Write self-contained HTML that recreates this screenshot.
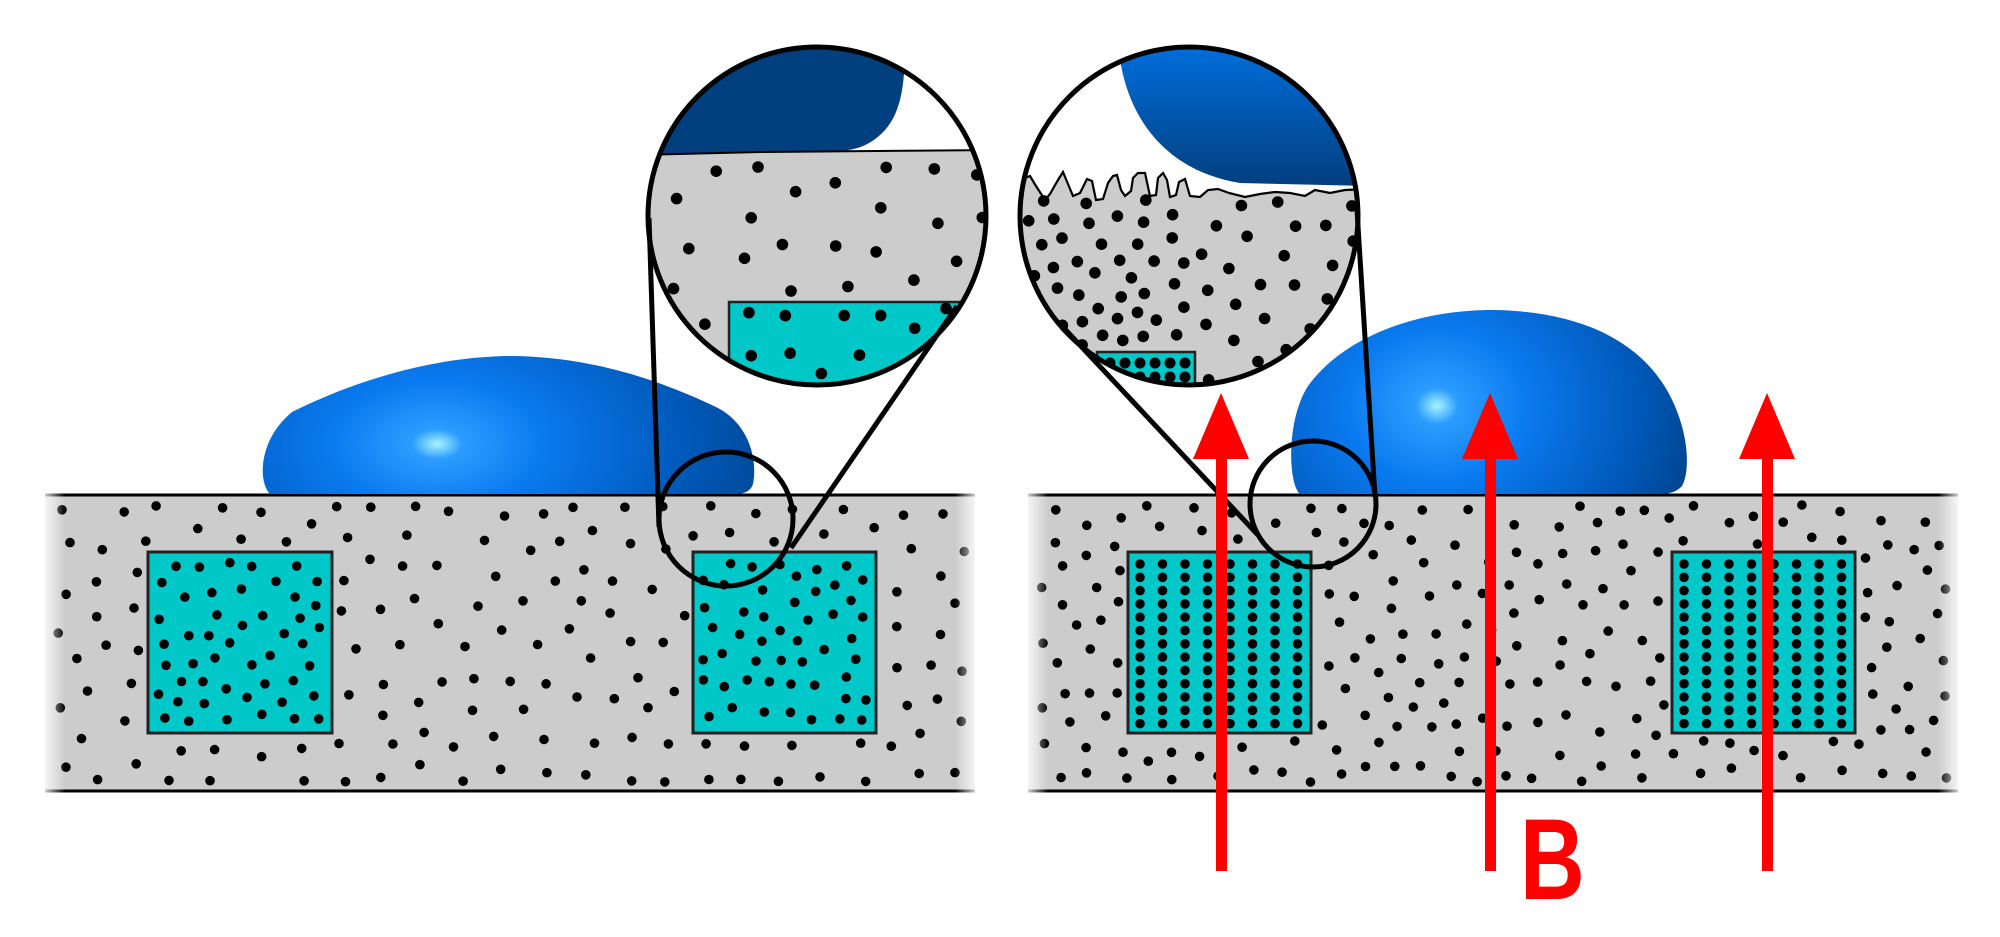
<!DOCTYPE html>
<html><head><meta charset="utf-8">
<style>
html,body{margin:0;padding:0;background:#fff;width:2000px;height:937px;overflow:hidden}
svg{display:block}
</style></head>
<body>
<svg id="s" width="2000" height="937" viewBox="0 0 2000 937" xmlns="http://www.w3.org/2000/svg">
<defs>
<radialGradient id="dropL" cx="437" cy="444" r="420" fx="437" fy="444" gradientUnits="userSpaceOnUse" gradientTransform="translate(437 444) scale(1 0.6) translate(-437 -444)">
<stop offset="0" stop-color="#a8f4ff"/>
<stop offset="0.06" stop-color="#2c9cff"/>
<stop offset="0.25" stop-color="#0a7af0"/>
<stop offset="0.6" stop-color="#0058b8"/>
<stop offset="1" stop-color="#003a78"/>
</radialGradient>
<radialGradient id="dropR" cx="1437" cy="406" r="300" fx="1437" fy="406" gradientUnits="userSpaceOnUse" gradientTransform="translate(1437 406) scale(1 0.85) translate(-1437 -406)">
<stop offset="0" stop-color="#a8f4ff"/>
<stop offset="0.07" stop-color="#2c9cff"/>
<stop offset="0.3" stop-color="#0a7af0"/>
<stop offset="0.7" stop-color="#0056b4"/>
<stop offset="1" stop-color="#003a78"/>
</radialGradient>
<linearGradient id="cDrop" x1="0" y1="0" x2="0" y2="1">
<stop offset="0" stop-color="#0070e0"/>
<stop offset="1" stop-color="#023f7f"/>
</linearGradient>
<linearGradient id="fadeL" x1="0" y1="0" x2="1" y2="0">
<stop offset="0" stop-color="#fff" stop-opacity="1"/>
<stop offset="1" stop-color="#fff" stop-opacity="0"/>
</linearGradient>
<linearGradient id="fadeR" x1="0" y1="0" x2="1" y2="0">
<stop offset="0" stop-color="#fff" stop-opacity="0"/>
<stop offset="1" stop-color="#fff" stop-opacity="1"/>
</linearGradient>
<clipPath id="cl"><circle cx="817" cy="216" r="169"/></clipPath>
<clipPath id="cr"><circle cx="1189" cy="216" r="169"/></clipPath>
</defs>

<rect x="45" y="495" width="930" height="296" fill="#cccccc"/>
<rect x="148" y="552" width="184" height="181" fill="#00c8c8" stroke="#222" stroke-width="3"/>
<rect x="693" y="552" width="183" height="181" fill="#00c8c8" stroke="#222" stroke-width="3"/>
<g id="dotsL"></g>
<line x1="45" y1="495" x2="975" y2="495" stroke="#000" stroke-width="3"/>
<line x1="45" y1="791" x2="975" y2="791" stroke="#000" stroke-width="3"/>
<rect x="40" y="490" width="25" height="306" fill="url(#fadeL)"/>
<rect x="955" y="490" width="25" height="306" fill="url(#fadeR)"/>

<rect x="1028" y="495" width="930" height="296" fill="#cccccc"/>
<rect x="1128" y="552" width="183" height="181" fill="#00c8c8" stroke="#222" stroke-width="3"/>
<rect x="1672" y="552" width="183" height="181" fill="#00c8c8" stroke="#222" stroke-width="3"/>
<g id="dotsR"></g>
<line x1="1028" y1="495" x2="1958" y2="495" stroke="#000" stroke-width="3"/>
<line x1="1028" y1="791" x2="1958" y2="791" stroke="#000" stroke-width="3"/>
<rect x="1023" y="490" width="25" height="306" fill="url(#fadeL)"/>
<rect x="1938" y="490" width="25" height="306" fill="url(#fadeR)"/>

<path d="M270,494 C258,482 258,440 292,412 C360,378 440,356 512,356 C600,357 670,385 718,408 C748,424 758,458 753,484 Q750,494 735,494 Z" fill="url(#dropL)"/>
<path d="M1300,494 C1288,484 1286,420 1308,386 C1345,335 1420,310 1492,310 C1582,311 1640,342 1668,392 C1690,432 1690,472 1682,486 Q1675,494 1660,494 Z" fill="url(#dropR)"/>

<g clip-path="url(#cl)">
<rect x="640" y="40" width="360" height="360" fill="#fff"/>
<path d="M640,40 L905,40 C905,80 903,115 880,135 C868,146 855,150 840,151 L640,155 Z" fill="#023f7f"/>
<path d="M640,155 L760,152 L1000,150 L1000,400 L640,400 Z" fill="#cccccc"/>
<rect x="729" y="302" width="280" height="100" fill="#00c8c8" stroke="#222" stroke-width="2.5"/>
<g id="dotsCL"></g>
<path d="M640,155 L760,152 L1000,150" fill="none" stroke="#000" stroke-width="2"/>
</g>
<circle cx="817" cy="216" r="169" fill="none" stroke="#000" stroke-width="5"/>

<g clip-path="url(#cr)">
<rect x="1010" y="40" width="360" height="360" fill="#fff"/>
<path d="M1118,40 C1122,110 1160,170 1240,183 L1370,186 L1370,40 Z" fill="url(#cDrop)"/>
<path d="M1018,185 L1025,178 L1030,176 L1036,186 L1045,200 L1050,194 L1058,180 L1063,172 L1068,184 L1073,196 L1080,193 L1087,179 L1092,181 L1096,200 L1103,199 L1108,183 L1113,176 L1117,175 L1121,190 L1125,196 L1131,191 L1133,178 L1138,173 L1145,173 L1150,196 L1156,195 L1158,178 L1163,173 L1167,180 L1170,197 L1176,195 L1179,182 L1185,179 L1190,196 L1200,197 L1208,190 L1218,189 L1229,193 L1245,197 L1260,194 L1275,192 L1290,193 L1305,196 L1315,190 L1330,193 L1345,190 L1370,189 L1370,400 L1010,400 Z" fill="#cccccc" stroke="#000" stroke-width="2.2"/>
<rect x="1097" y="352" width="98" height="50" fill="#00c8c8" stroke="#222" stroke-width="2.5"/>
<g id="dotsCR"></g>
</g>
<circle cx="1189" cy="216" r="169" fill="none" stroke="#000" stroke-width="5"/>

<circle cx="726" cy="519" r="67" fill="none" stroke="#000" stroke-width="5"/>
<line x1="659" y1="527" x2="649" y2="218" stroke="#000" stroke-width="5"/>
<line x1="791" y1="548" x2="957" y2="306" stroke="#000" stroke-width="5"/>
<circle cx="1313" cy="504" r="63" fill="none" stroke="#000" stroke-width="5"/>
<line x1="1062" y1="326" x2="1258" y2="535" stroke="#000" stroke-width="5"/>
<line x1="1357" y1="210" x2="1375" y2="497" stroke="#000" stroke-width="5"/>

<g fill="#ff0000">
<rect x="1216" y="455" width="11" height="416"/>
<polygon points="1221,393 1193,459 1249,459"/>
<rect x="1485" y="455" width="11" height="416"/>
<polygon points="1490,393 1462,459 1518,459"/>
<rect x="1762" y="455" width="11" height="416"/>
<polygon points="1767,393 1739,459 1795,459"/>
</g>
<text x="0" y="0" transform="translate(1520 899) scale(0.78 1)" font-family="Liberation Sans, sans-serif" font-weight="bold" font-size="115" fill="#ff0000">B</text>
</svg>
<script>
(function(){
var NS="http://www.w3.org/2000/svg";
var seed=12345;
function rnd(){seed=(seed*1103515245+12345)%2147483648;return seed/2147483648;}
function dot(g,x,y,r){var c=document.createElementNS(NS,"circle");c.setAttribute("cx",x.toFixed(1));c.setAttribute("cy",y.toFixed(1));c.setAttribute("r",r);c.setAttribute("fill","#000");g.appendChild(c);}
function inR(x,y,rs,m){for(var i=0;i<rs.length;i++){var q=rs[i];if(x>q[0]-m&&x<q[2]+m&&y>q[1]-m&&y<q[3]+m)return true;}return false;}
function scatter(g,x0,y0,x1,y1,n,r,md,ex,inc){
  var pts=[],tries=0;
  while(pts.length<n&&tries<n*200){tries++;
    var x=x0+rnd()*(x1-x0),y=y0+rnd()*(y1-y0);
    if(ex&&inR(x,y,ex,r+3))continue;
    if(inc&&!inc(x,y))continue;
    var ok=true;for(var i=0;i<pts.length;i++){var dx=pts[i][0]-x,dy=pts[i][1]-y;if(dx*dx+dy*dy<md*md){ok=false;break;}}
    if(!ok)continue;pts.push([x,y]);dot(g,x,y,r);}
}
var gL=document.getElementById("dotsL"),gR=document.getElementById("dotsR");
var exL=[[148,552,332,733],[693,552,876,733]];
scatter(gL,58,505,965,782,150,4.8,30,exL);
scatter(gL,158,562,322,723,48,4.8,20);
scatter(gL,703,562,866,723,50,4.8,20);
var exR=[[1128,552,1311,733],[1672,552,1855,733]];
scatter(gR,1040,505,1948,782,220,4.8,24,exR);
function grid(g,x0,y0){for(var i=0;i<8;i++)for(var j=0;j<13;j++)dot(g,x0+12+i*22.5,y0+12+j*13.3,4.8);}
grid(gR,1128,552);grid(gR,1672,552);
var cl=document.getElementById("dotsCL");
scatter(cl,648,162,990,398,60,5.8,40,[[729,302,1000,400]],function(x,y){return (x-817)*(x-817)+(y-216)*(y-216)<166*166;});
scatter(cl,735,308,990,398,14,5.8,36,null,function(x,y){return (x-817)*(x-817)+(y-216)*(y-216)<160*160;});
var cr=document.getElementById("dotsCR");
scatter(cr,1022,200,1185,398,70,5.8,20,[[1097,352,1200,400]],function(x,y){return (x-1189)*(x-1189)+(y-216)*(y-216)<168*168;});
scatter(cr,1200,198,1360,398,32,5.8,30,null,function(x,y){return (x-1189)*(x-1189)+(y-216)*(y-216)<168*168;});
for(var i=0;i<6;i++){dot(cr,1110+i*15,363,5.5);dot(cr,1110+i*15,377,5.5);}
})();
</script>
</body></html>
